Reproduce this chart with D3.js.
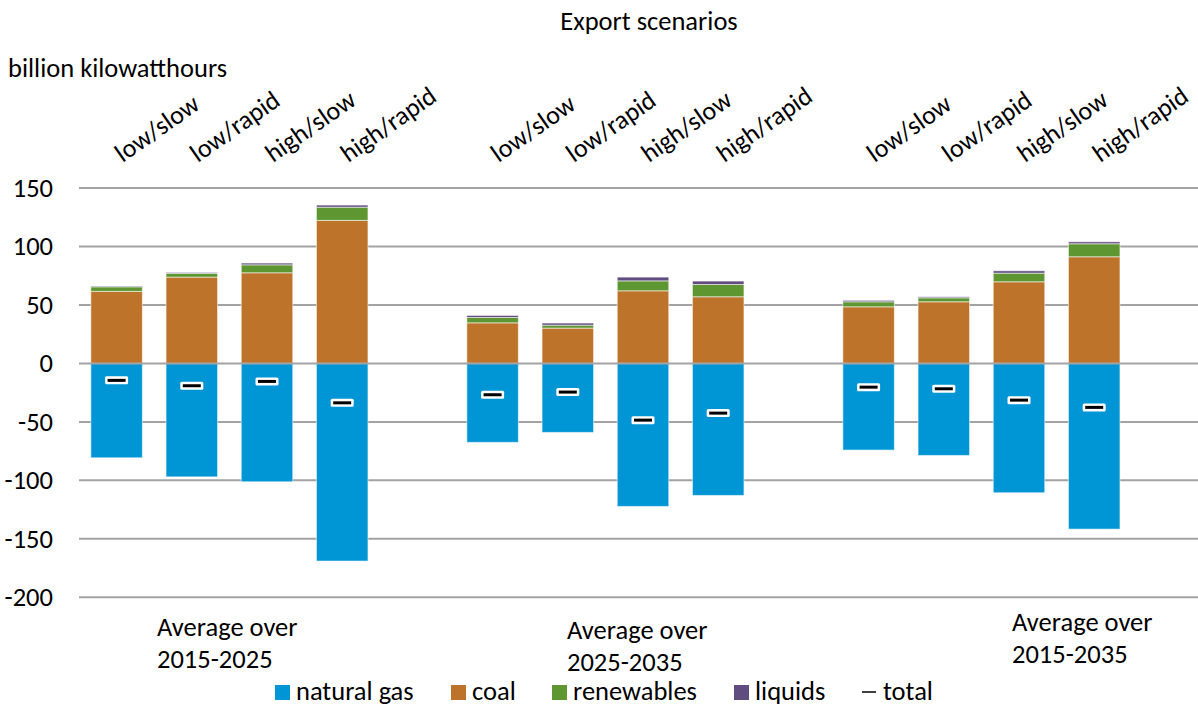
<!DOCTYPE html>
<html lang="en">
<head>
<meta charset="UTF-8">
<title>Export scenarios</title>
<script src="https://d3js.org/d3.v7.min.js"></script>
<style>
    body { margin: 0; background: #fff; }
    svg text { font-family: Carlito, Calibri, Lato, sans-serif; fill: #000; font-size: 26.5px; }
</style>
</head>
<body>
<div id="chart"></div>
<script>
    // scenario labels and periods
    const scenarios = ["low/slow", "low/rapid", "high/slow", "high/rapid"];
    const periods = ["2015-2025", "2025-2035", "2015-2035"];
    const yTicks = [150, 100, 50, 0, -50, -100, -150, -200];

    // values per bar, 4 scenarios x 3 periods (billion kWh)
    const naturalGas = [-80.7, -97.0, -101.2, -169.0, -67.5, -59.0, -122.3, -112.9, -74.1, -78.7, -110.6, -141.7];
    const coal       = [61.6, 73.8, 77.5, 122.3, 34.7, 30.2, 62.1, 57.0, 48.4, 52.7, 69.8, 91.2];
    const renewables = [3.9, 3.2, 6.8, 11.3, 4.6, 2.5, 8.5, 10.5, 4.3, 3.4, 7.4, 11.1];
    const liquids    = [0.6, 0.8, 1.5, 1.8, 1.7, 1.8, 3.2, 2.9, 1.2, 0.9, 2.0, 1.7];
    const total      = [-14.5, -19.1, -15.4, -33.7, -26.8, -24.5, -48.5, -42.5, -20.3, -21.7, -31.4, -37.6];

    const keys = ["naturalGas", "coal", "renewables", "liquids"];
    const names = { naturalGas: "natural gas", coal: "coal", renewables: "renewables", liquids: "liquids" };
    const colors = { naturalGas: "#0096d6", coal: "#bd732a", renewables: "#5e9732", liquids: "#604c7e" };

    const W = 1198, H = 708;
    const svg = d3.select("#chart").append("svg").attr("width", W).attr("height", H);

    // rows, one per bar, plus an empty slot after each period
    const rows = [];
    const slots = [];
    periods.forEach((p, pi) => {
        scenarios.forEach((s, si) => {
            const i = pi * 4 + si;
            const id = p + "|" + s;
            rows.push({ id, period: p, scenario: s, naturalGas: naturalGas[i], coal: coal[i],
                renewables: renewables[i], liquids: liquids[i], total: total[i] });
            slots.push(id);
        });
        slots.push(p + "|gap");
    });

    const x = d3.scaleBand().domain(slots).range([79, 79 + 15 * 75.2])
        .paddingInner(0.315).paddingOuter(0.1575);
    const y = d3.scaleLinear().domain([-200, 150]).range([597.3, 188]);

    // gridlines
    svg.append("g").selectAll("line").data(yTicks.filter(d => d !== 0)).join("line")
        .attr("x1", 79).attr("x2", W)
        .attr("y1", d => y(d)).attr("y2", d => y(d))
        .attr("stroke", "#a3a3a3").attr("stroke-width", 2);

    // tick labels
    svg.append("g").selectAll("text").data(yTicks).join("text")
        .attr("x", 53).attr("y", d => y(d) + 9)
        .attr("text-anchor", "end")
        .text(d => d);

    const stack = d3.stack().keys(keys).offset(d3.stackOffsetDiverging);
    const series = stack(rows);

    svg.append("g").selectAll("g").data(series).join("g")
        .attr("fill", d => colors[d.key])
        .selectAll("rect").data(d => d).join("rect")
        .attr("x", d => x(d.data.id))
        .attr("width", x.bandwidth())
        .attr("y", d => y(d[1]))
        .attr("height", d => Math.abs(y(d[0]) - y(d[1])))
        .attr("stroke", "rgba(255,255,255,0.55)").attr("stroke-width", 1);

    // zero line on top of bars
    svg.append("line")
        .attr("x1", 79).attr("x2", W).attr("y1", y(0)).attr("y2", y(0))
        .attr("stroke", "#a3a3a3").attr("stroke-width", 2);

    // total markers
    const tm = svg.append("g").selectAll("g").data(rows).join("g")
        .attr("transform", d => `translate(${x(d.id) + x.bandwidth() / 2},${y(d.total)})`);
    tm.append("rect").attr("x", -11.5).attr("y", -4).attr("width", 23).attr("height", 8)
        .attr("rx", 1.5).attr("fill", "#fff");
    tm.append("rect").attr("x", -9).attr("y", -1.5).attr("width", 18).attr("height", 3).attr("fill", "#000");

    // scenario labels (rotated)
    svg.append("g").selectAll("text").data(rows).join("text")
        .attr("transform", d => `translate(${x(d.id) + x.bandwidth() / 2 + 6},163) rotate(-35)`)
        .style("font-size", "26px")
        .text(d => d.scenario);

    // period labels
    const periodPos = [[157, 636], [567, 639], [1012, 631]];
    periods.forEach((p, i) => {
        const t = svg.append("text").attr("x", periodPos[i][0]).attr("y", periodPos[i][1]);
        t.append("tspan").attr("x", periodPos[i][0]).text("Average over");
        t.append("tspan").attr("x", periodPos[i][0]).attr("dy", 31.5).text(p);
    });

    svg.append("text").attr("x", 649).attr("y", 30).attr("text-anchor", "middle")
        .text("Export scenarios");
    svg.append("text").attr("x", 8).attr("y", 77)
        .text("billion kilowatthours");

    // legend
    const legendX = { naturalGas: 275, coal: 451, renewables: 552, liquids: 734 };
    const lg = svg.append("g").selectAll("g").data(keys).join("g")
        .attr("transform", d => `translate(${legendX[d]},685)`);
    lg.append("rect").attr("width", 15).attr("height", 15).attr("fill", d => colors[d]);
    lg.append("text").attr("x", 21).attr("y", 15).text(d => names[d]);

    svg.append("line").attr("x1", 862).attr("x2", 876).attr("y1", 692).attr("y2", 692)
        .attr("stroke", "#000").attr("stroke-width", 1.5);
    svg.append("text").attr("x", 883).attr("y", 700).text("total");
</script>
</body>
</html>
